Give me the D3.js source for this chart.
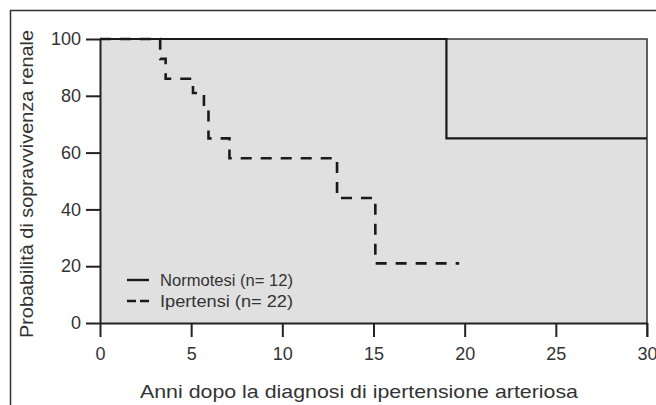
<!DOCTYPE html>
<html>
<head>
<meta charset="utf-8">
<script src="https://cdn.jsdelivr.net/npm/d3@7"></script>
<style>
  body { margin: 0; background: #fff; }
  text { font-family: "Liberation Sans", Arial, sans-serif; fill: #333; }
</style>
</head>
<body>
<svg id="chart" width="656" height="405"></svg>
<script>
// Kaplan-Meier curves (years, % survival)
var normoTimes = [0, 19.0, 30];
var normoSurv  = [100, 65, 65];

var iperTimes = [0, 3.3, 3.6, 5.1, 5.7, 5.95, 7.1, 13.0, 15.1, 19.7];
var iperSurv  = [100, 93, 86, 81, 75, 65, 58, 44, 21, 21];

var xTicks = [0, 5, 10, 15, 20, 25, 30];
var yTicks = [0, 20, 40, 60, 80, 100];

var legendLabels = ["Normotesi (n= 12)", "Ipertensi (n= 22)"];

var svg = d3.select("#chart");

//plot box (window.top is taken, so own names)
var pLeft = 100, pRight = 647, pTop = 39, pBottom = 323;

var x = d3.scaleLinear().domain([0, 30]).range([pLeft, pRight]);
var y = d3.scaleLinear().domain([0, 100]).range([pBottom, pTop]);

//outer frame (left and top only)
svg.append("path")
   .attr("d", "M10.5,405V10.5H656")
   .attr("fill", "none")
   .attr("stroke", "#333")
   .attr("stroke-width", 1.5);

//gray background
svg.append("rect")
   .attr("x", pLeft).attr("y", pTop)
   .attr("width", pRight - pLeft).attr("height", pBottom - pTop)
   .attr("fill", "#e0e0e0");

//top and right edges of plot box
svg.append("path")
   .attr("d", "M" + pLeft + "," + pTop + "H" + pRight + "V" + (pBottom + 14))
   .attr("fill", "none")
   .attr("stroke", "#3a3a3a")
   .attr("stroke-width", 1.6);

//axes
var yAxis = svg.append("g")
   .attr("transform", "translate(" + pLeft + ",0)")
   .call(d3.axisLeft(y).tickValues(yTicks).tickSize(14).tickSizeOuter(0).tickPadding(5));

var xAxis = svg.append("g")
   .attr("transform", "translate(0," + pBottom + ")")
   .call(d3.axisBottom(x).tickValues(xTicks).tickSize(14).tickSizeOuter(0).tickPadding(10));

[yAxis, xAxis].forEach(function(a) {
    a.selectAll("path.domain").attr("stroke", "#222").attr("stroke-width", 2);
    a.selectAll(".tick line").attr("stroke", "#222").attr("stroke-width", 2);
    a.selectAll(".tick text")
     .attr("font-family", "Liberation Sans, Arial, sans-serif")
     .attr("font-size", 18)
     .attr("fill", "#333");
});

//step lines
function stepPoints(times, surv) {
    return times.map(function(t, i) { return [t, surv[i]]; });
}
var line = d3.line()
             .x(function(d) { return x(d[0]); })
             .y(function(d) { return y(d[1]); })
             .curve(d3.curveStepAfter);

svg.append("path")
   .datum(stepPoints(iperTimes, iperSurv))
   .attr("d", line)
   .attr("fill", "none")
   .attr("stroke", "#1a1a1a")
   .attr("stroke-width", 2.6)
   .attr("stroke-dasharray", "11,9");

svg.append("path")
   .datum(stepPoints(normoTimes, normoSurv))
   .attr("d", line)
   .attr("fill", "none")
   .attr("stroke", "#1a1a1a")
   .attr("stroke-width", 2.2);

//legend
var legend = svg.append("g");
legendLabels.forEach(function(lab, i) {
    var ly = 280 + i * 21;
    legend.append("line")
          .attr("x1", 127).attr("x2", 149)
          .attr("y1", ly).attr("y2", ly)
          .attr("stroke", "#1a1a1a")
          .attr("stroke-width", 2.4)
          .attr("stroke-dasharray", i == 0 ? null : "9,4");
    legend.append("text")
          .attr("x", 160).attr("y", ly)
          .attr("dy", "0.36em")
          .attr("font-size", 16)
          .attr("textLength", 133)
          .attr("lengthAdjust", "spacingAndGlyphs")
          .text(lab);
});

//axis titles
svg.append("text")
   .attr("x", 359).attr("y", 398)
   .attr("text-anchor", "middle")
   .attr("font-size", 19)
   .attr("textLength", 438)
   .attr("lengthAdjust", "spacingAndGlyphs")
   .text("Anni dopo la diagnosi di ipertensione arteriosa");

svg.append("text")
   .attr("transform", "translate(33,184)rotate(-90)")
   .attr("text-anchor", "middle")
   .attr("font-size", 19)
   .attr("textLength", 308)
   .attr("lengthAdjust", "spacingAndGlyphs")
   .text("Probabilità di sopravvivenza renale");
</script>
</body>
</html>
